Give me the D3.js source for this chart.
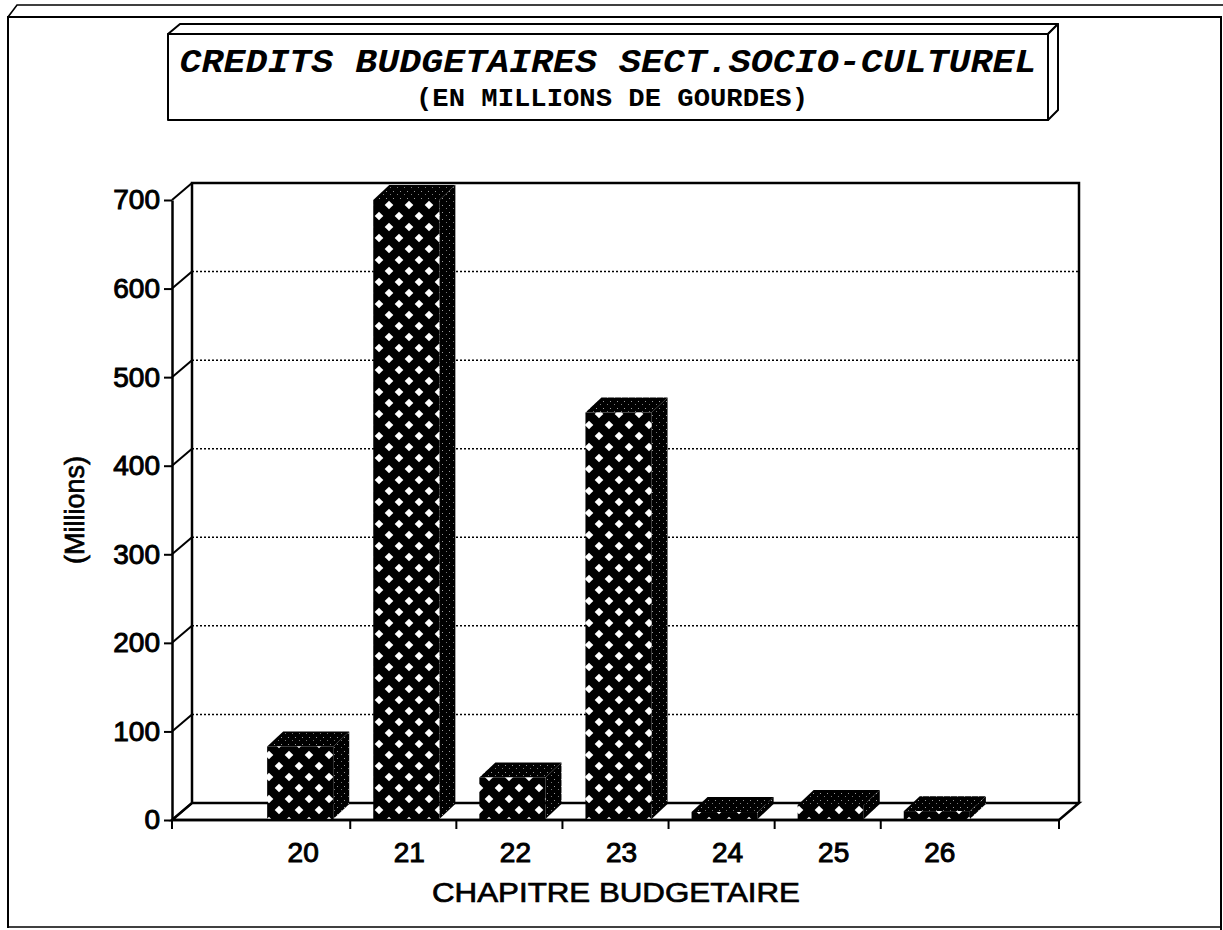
<!DOCTYPE html>
<html>
<head>
        <meta charset="utf-8">
        <script src="https://d3js.org/d3.v7.min.js"></script>
        <style>
            body { margin: 0; background: #fff; }
            svg { display: block; }
        </style>
</head>
<body>
        <script type="text/javascript">

            // chart values
            var chapitres = ["20", "21", "22", "23", "24", "25", "26"];
            var credits = [83, 700, 48, 460, 9, 17, 10];
            var yTicks = [0, 100, 200, 300, 400, 500, 600, 700];

            var titre = "CREDITS BUDGETAIRES SECT.SOCIO-CULTUREL";
            var sousTitre = "(EN MILLIONS DE GOURDES)";
            var xTitre = "CHAPITRE BUDGETAIRE";
            var yTitre = "(Millions)";

            function draw() {

                var w = 1223, h = 930;

                // front plane of the 3D box, and depth offset to the back wall
                var pLeft = 172, pRight = 1059, pBottom = 820, pTop = 200;
                var dx = 20, dy = -17;
                // bars are a bit shallower than the box
                var bdx = 16, bdy = -15;

                var svg = d3.select("body")
                    .append("svg")
                        .attr("width", w)
                        .attr("height", h);

                var x = d3.scaleBand()
                    .domain(chapitres)
                    .range([pLeft, pRight])
                    .paddingOuter(0.68);

                var y = d3.scaleLinear()
                    .domain([0, 700])
                    .range([pBottom, pTop]);

/*************************************************************************************************/
/* Patterns */
                var defs = svg.append("defs");

                var diam = defs.append("pattern")
                    .attr("id", "diam")
                    .attr("patternUnits", "userSpaceOnUse")
                    .attr("x", 4).attr("y", 2)
                    .attr("width", 20).attr("height", 22);
                diam.append("rect").attr("width", 20).attr("height", 22).attr("fill", "#000");
                [[5, 5], [15, 16]].forEach(function(p) {
                    var r = 4.3;
                    diam.append("path")
                        .attr("d", "M" + p[0] + "," + (p[1] - r) + "L" + (p[0] + r) + "," + p[1] +
                                   "L" + p[0] + "," + (p[1] + r) + "L" + (p[0] - r) + "," + p[1] + "Z")
                        .attr("fill", "#fff");
                });

                var stip = defs.append("pattern")
                    .attr("id", "stip")
                    .attr("patternUnits", "userSpaceOnUse")
                    .attr("width", 7).attr("height", 7);
                stip.append("rect").attr("width", 7).attr("height", 7).attr("fill", "#000");
                stip.append("rect").attr("x", 1).attr("y", 2).attr("width", 1).attr("height", 1).attr("fill", "#999");
                stip.append("rect").attr("x", 5).attr("y", 5).attr("width", 1).attr("height", 1).attr("fill", "#777");

/*************************************************************************************************/
/* Outer frame and title box */
                var frame = svg.append("g")
                    .attr("fill", "none")
                    .attr("stroke", "#000")
                    .attr("stroke-width", 2);

                frame.append("path").attr("d", "M8,928 L8,17 L1221,17 L1221,930");
                frame.append("path").attr("d", "M8,17 L17,5 L1223,5").attr("stroke-width", 1.6);
                frame.append("path").attr("d", "M8,927 L1221,927").attr("stroke-width", 1.6);

                var box = svg.append("g")
                    .attr("fill", "#fff")
                    .attr("stroke", "#000")
                    .attr("stroke-width", 2)
                    .attr("stroke-linejoin", "round");
                box.append("path").attr("d", "M168,34 L180,24 L1058,24 L1048,34 Z");
                box.append("path").attr("d", "M1048,34 L1058,24 L1058,110 L1048,120 Z");
                box.append("rect").attr("x", 168).attr("y", 34).attr("width", 880).attr("height", 86);

                svg.append("text")
                    .attr("x", 608).attr("y", 72)
                    .attr("text-anchor", "middle")
                    .attr("font-family", "'Liberation Mono', 'DejaVu Sans Mono', monospace")
                    .attr("font-size", 33)
                    .attr("font-weight", "bold")
                    .attr("font-style", "italic")
                    .attr("textLength", 857)
                    .attr("lengthAdjust", "spacingAndGlyphs")
                    .text(titre);

                svg.append("text")
                    .attr("x", 612).attr("y", 106)
                    .attr("text-anchor", "middle")
                    .attr("font-family", "'Liberation Mono', 'DejaVu Sans Mono', monospace")
                    .attr("font-size", 25)
                    .attr("font-weight", "bold")
                    .attr("textLength", 392)
                    .attr("lengthAdjust", "spacingAndGlyphs")
                    .text(sousTitre);

/*************************************************************************************************/
/* Back wall, floor and grid */
                var wall = svg.append("g").attr("stroke", "#000").attr("fill", "none");

                wall.selectAll(".grid")
                    .data(yTicks.filter(function(d) { return d > 0 && d < 700; }))
                    .enter().append("line")
                        .attr("class", "grid")
                        .attr("x1", pLeft + dx).attr("x2", pRight + dx)
                        .attr("y1", function(d) { return y(d) + dy; })
                        .attr("y2", function(d) { return y(d) + dy; })
                        .attr("stroke-width", 1.5)
                        .attr("stroke-dasharray", "2,2");

                wall.append("path")
                    .attr("d", "M" + (pLeft + dx) + "," + (y(0) + dy) +
                               "L" + (pLeft + dx) + "," + (y(700) + dy) +
                               "L" + (pRight + dx) + "," + (y(700) + dy) +
                               "L" + (pRight + dx) + "," + (y(0) + dy))
                    .attr("stroke-width", 2.5);

                // floor
                wall.append("path")
                    .attr("d", "M" + pLeft + "," + y(0) +
                               "L" + (pLeft + dx) + "," + (y(0) + dy) +
                               "L" + (pRight + dx) + "," + (y(0) + dy) +
                               "L" + pRight + "," + y(0) + "Z")
                    .attr("fill", "#fff")
                    .attr("stroke-width", 2.5);

                // diagonals from the front axis to the wall
                wall.selectAll(".diag")
                    .data(yTicks)
                    .enter().append("line")
                        .attr("class", "diag")
                        .attr("x1", pLeft).attr("x2", pLeft + dx)
                        .attr("y1", function(d) { return y(d); })
                        .attr("y2", function(d) { return y(d) + dy; })
                        .attr("stroke-width", 2);

/*************************************************************************************************/
/* Bars */
                var bars = svg.append("g").selectAll(".bar")
                    .data(chapitres)
                    .enter().append("g")
                        .attr("class", "bar");

                function bx(d) { return x(d) + 23; }
                function bw() { return x.bandwidth() - 23 - bdx - 1; }

                // side face
                bars.append("path")
                    .attr("d", function(d, i) {
                        var x1 = bx(d) + bw(), yt = y(credits[i]), yb = y(0) - 1;
                        return "M" + x1 + "," + yb + "L" + x1 + "," + yt +
                               "L" + (x1 + bdx) + "," + (yt + bdy) +
                               "L" + (x1 + bdx) + "," + (yb + bdy) + "Z";
                    })
                    .attr("fill", "url(#stip)");

                // top face
                bars.append("path")
                    .attr("d", function(d, i) {
                        var x0 = bx(d), x1 = bx(d) + bw(), yt = y(credits[i]);
                        return "M" + x0 + "," + yt + "L" + (x0 + bdx) + "," + (yt + bdy) +
                               "L" + (x1 + bdx) + "," + (yt + bdy) + "L" + x1 + "," + yt + "Z";
                    })
                    .attr("fill", "url(#stip)");

                // front face
                bars.append("rect")
                    .attr("x", bx)
                    .attr("y", function(d, i) { return y(credits[i]); })
                    .attr("width", bw())
                    .attr("height", function(d, i) { return y(0) - 1 - y(credits[i]); })
                    .attr("fill", "url(#diam)");

                // front floor edge over the bars
                svg.append("line")
                    .attr("x1", pLeft).attr("x2", pRight)
                    .attr("y1", y(0)).attr("y2", y(0))
                    .attr("stroke", "#000").attr("stroke-width", 2.5);

/*************************************************************************************************/
/* Axes */
                var yAxis = svg.append("g")
                    .attr("transform", "translate(" + pLeft + ",0)")
                    .call(d3.axisLeft(y).tickValues(yTicks).tickSize(8).tickSizeOuter(0).tickPadding(4));
                yAxis.select(".domain").attr("stroke-width", 2.5);
                yAxis.selectAll(".tick line").attr("stroke-width", 2);
                yAxis.selectAll(".tick text")
                    .attr("font-family", "'Liberation Sans', Arial, sans-serif")
                    .attr("font-size", 28)
                    .attr("fill", "#000")
                    .attr("stroke", "#000")
                    .attr("stroke-width", 1);

                // x ticks sit between categories, plus both ends
                var xTickPos = [pLeft, pRight];
                chapitres.slice(0, -1).forEach(function(d) { xTickPos.push(x(d) + x.bandwidth()); });

                svg.append("g").selectAll("line")
                    .data(xTickPos)
                    .enter().append("line")
                        .attr("x1", function(d) { return d; })
                        .attr("x2", function(d) { return d; })
                        .attr("y1", y(0)).attr("y2", y(0) + 9)
                        .attr("stroke", "#000").attr("stroke-width", 2);

                svg.append("g").selectAll("text")
                    .data(chapitres)
                    .enter().append("text")
                        .attr("x", function(d) { return bx(d) + bw() / 2 + 3; })
                        .attr("y", 862)
                        .attr("text-anchor", "middle")
                        .attr("font-family", "'Liberation Sans', Arial, sans-serif")
                        .attr("font-size", 28)
                        .attr("stroke", "#000")
                        .attr("stroke-width", 1)
                        .text(function(d) { return d; });

                svg.append("text")
                    .attr("x", 616).attr("y", 902)
                    .attr("text-anchor", "middle")
                    .attr("font-family", "'Liberation Sans', Arial, sans-serif")
                    .attr("font-size", 27)
                    .attr("stroke", "#000")
                    .attr("stroke-width", 0.7)
                    .attr("textLength", 368)
                    .attr("lengthAdjust", "spacingAndGlyphs")
                    .text(xTitre);

                svg.append("text")
                    .attr("transform", "translate(84,510) rotate(-90)")
                    .attr("text-anchor", "middle")
                    .attr("font-family", "'Liberation Sans', Arial, sans-serif")
                    .attr("font-size", 27)
                    .attr("stroke", "#000")
                    .attr("stroke-width", 0.7)
                    .text(yTitre);
            }

            draw();

        </script>
</body>
</html>
